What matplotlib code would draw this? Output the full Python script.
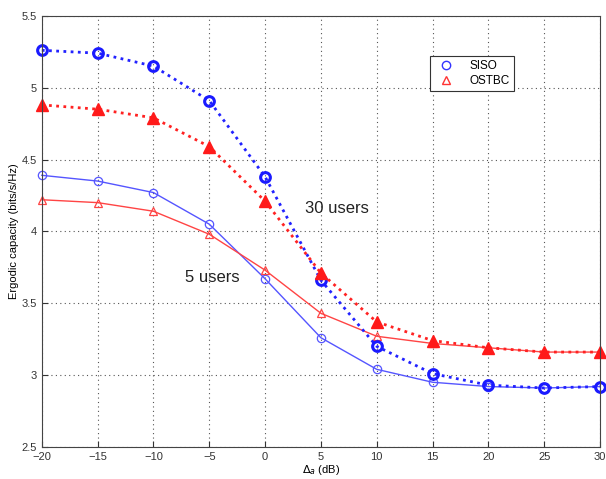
import matplotlib
matplotlib.use("Agg")
import matplotlib.pyplot as plt
from matplotlib.lines import Line2D

plt.rcParams['font.family'] = ['Liberation Sans', 'DejaVu Sans']

delta = [-20, -15, -10, -5, 0, 5, 10, 15, 20, 25, 30]

# 30 users (thick dotted)
siso_30 = [5.26, 5.24, 5.15, 4.91, 4.38, 3.66, 3.20, 3.01, 2.93, 2.91, 2.92]
ostbc_30 = [4.88, 4.85, 4.79, 4.59, 4.21, 3.71, 3.37, 3.24, 3.19, 3.16, 3.16]

# 5 users (thin solid)
siso_5 = [4.39, 4.35, 4.27, 4.05, 3.67, 3.26, 3.04, 2.95, 2.92, 2.91, 2.92]
ostbc_5 = [4.22, 4.20, 4.14, 3.98, 3.73, 3.43, 3.27, 3.22, 3.19, 3.16, 3.16]

fig = plt.figure(figsize=(6.06, 4.79), dpi=100)
ax = fig.add_axes([0.069, 0.067, 0.921, 0.90])

ax.plot(delta, siso_5, '-', color='#5555ff', lw=1, marker='o', ms=6,
        mfc='none', mec='#5555ff', mew=0.9, clip_on=False)
ax.plot(delta, ostbc_5, '-', color='#ff4444', lw=1, marker='^', ms=6,
        mfc='none', mec='#ff4444', mew=0.9, clip_on=False)
ax.plot(delta, siso_30, color='#2222ff', lw=2, ls=(0, (1, 1.6)), marker='o',
        ms=7, mfc='none', mec='#1a1aff', mew=2.2, clip_on=False)
ax.plot(delta, ostbc_30, color='#ff2222', lw=2, ls=(0, (1, 1.6)), marker='^',
        ms=8, mfc='#ff1a1a', mec='#ff1a1a', mew=1, clip_on=False)

ax.text(3.6, 4.16, '30 users', fontsize=12, color='#222222', va='center')
ax.text(-7.2, 3.68, '5 users', fontsize=12, color='#222222', va='center')

ax.set_xlim(-20, 30)
ax.set_ylim(2.5, 5.5)
ax.set_xticks(range(-20, 31, 5))
ax.set_yticks([2.5, 3, 3.5, 4, 4.5, 5, 5.5])
ax.set_yticklabels(['2.5', '3', '3.5', '4', '4.5', '5', '5.5'])
ax.grid(True, ls=(0, (1, 3)), color='#555555', lw=0.8)
ax.tick_params(labelsize=8, direction='in', length=4, colors='#333333')
for s in ax.spines.values():
    s.set_color('#444444')

ax.set_xlabel(r'$\Delta_a$ (dB)', fontsize=8, labelpad=1)
ax.set_ylabel('Ergodic capacity (bits/s/Hz)', fontsize=8, labelpad=2)

handles = [
    Line2D([], [], ls='none', marker='o', ms=6, mfc='none', mec='#3333ff', mew=1),
    Line2D([], [], ls='none', marker='^', ms=6, mfc='none', mec='#ff3333', mew=1),
]
leg = ax.legend(handles, ['SISO', 'OSTBC'], loc='upper left',
                bbox_to_anchor=(0.695, 0.907), borderaxespad=0, fontsize=8.5,
                fancybox=False, framealpha=1, edgecolor='#333333',
                handlelength=2.0, handletextpad=1.0, borderpad=0.35,
                labelspacing=0.25)
leg.get_frame().set_linewidth(0.8)
leg.set_zorder(5)

fig.savefig('out.png', dpi=100)
